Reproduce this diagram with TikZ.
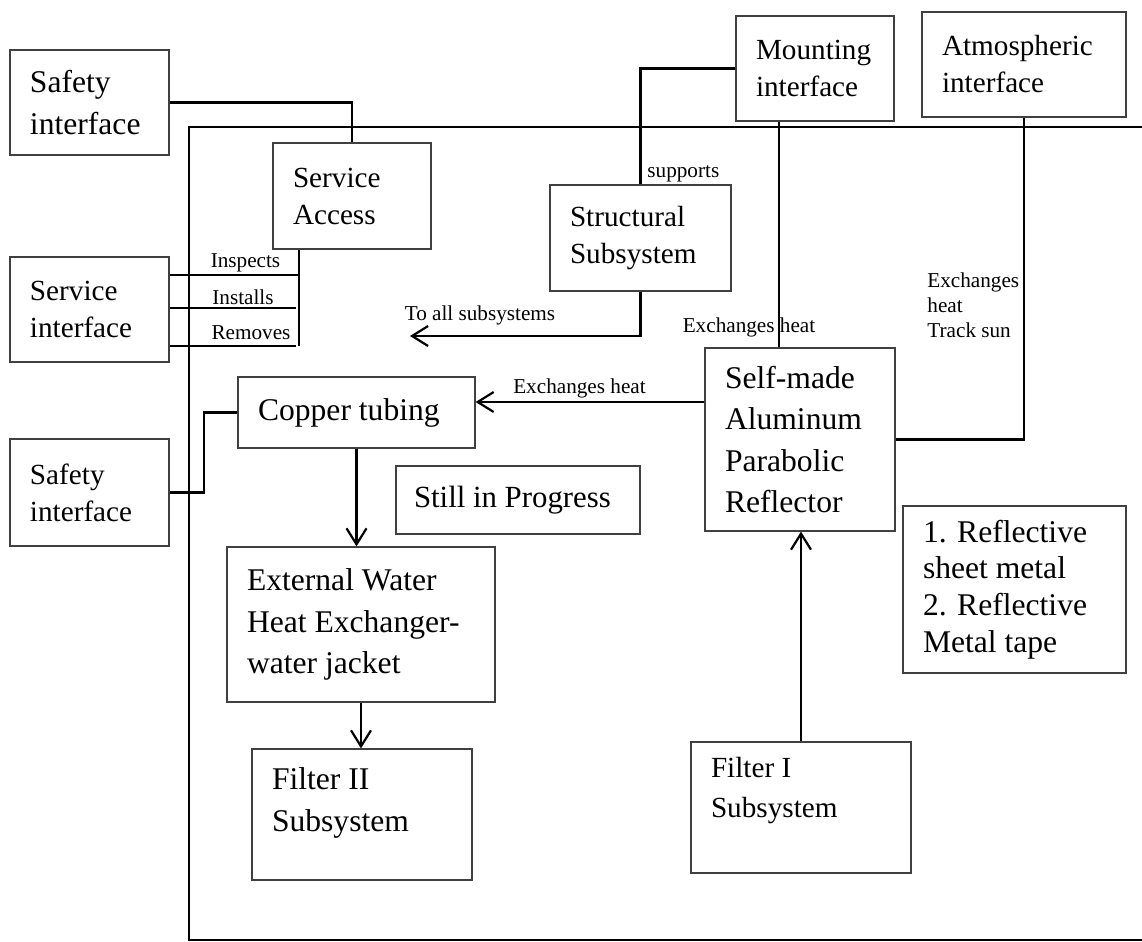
\documentclass[tikz,border=0pt]{standalone}
\usepackage{fontspec}
\setmainfont{Liberation Serif}
\usetikzlibrary{arrows.meta}

\begin{document}
\begin{tikzpicture}[x=0.5pt,y=-0.5pt,
    box/.style={draw=black!75, line width=0.6pt, inner xsep=10pt, inner ysep=0pt, align=flush left},
    big/.style={font=\fontsize{15.8}{20.8}\selectfont},
    mid/.style={font=\fontsize{14.6}{18.5}\selectfont},
    lbl/.style={inner sep=0pt, font=\fontsize{10.6}{12.5}\selectfont},
    wire/.style={line width=1.1pt},
    arr/.style={line width=1.1pt, -{Straight Barb[length=8pt,width=10pt]}},
    frame/.style={line width=1.3pt}]
    \useasboundingbox (0,0) rectangle (1142,942);

    \draw[frame] (1142,127) -- (189,127) -- (189,940) -- (1142,940);

    \node[box, big, text width=59.5pt, minimum height=52.5pt] (safetyA) at (89.5,102.5) {Safety\\interface};
    \node[box, mid, text width=59.5pt, minimum height=52.5pt] (service) at (89.5,309.5) {Service\\interface};
    \node[box, mid, text width=59.5pt, minimum height=53.5pt] (safetyB) at (89.5,492.5) {Safety\\interface};
    \node[box, mid, text width=59pt, minimum height=52.5pt] (mounting) at (815,68.5) {Mounting\\interface};
    \node[box, mid, text width=82pt, minimum height=52.5pt] (atmos) at (1024,64.5) {Atmospheric\\interface};

    \node[box, mid, text width=59pt, minimum height=53pt] (access) at (352,196) {Service\\Access};
    \node[box, mid, text width=70.5pt, minimum height=53pt] (struct) at (640.5,238) {Structural\\Subsystem};
    \node[box, big, text width=75pt, minimum height=91.5pt] (reflector) at (800,439.5) {Self-made\\Aluminum\\Parabolic\\Reflector};
    \node[box, big, text width=98.5pt, minimum height=35.5pt] (copper) at (356.5,412.5) {Copper tubing};
    \node[box, font=\fontsize{15.4}{20}\selectfont, inner xsep=9pt, text width=104pt, minimum height=34pt] (progress) at (518,500) {Still in Progress};
    \node[box, big, text width=114pt, minimum height=77.5pt] (jacket) at (361,624.5) {External Water\\Heat Exchanger-\\water jacket};
    \node[box, big, text width=90pt, minimum height=65.5pt] (filterB) at (362,814.5) {Filter II\\Subsystem\\[-6pt]~};
    \node[box, font=\fontsize{14.6}{20}\selectfont, text width=90pt, minimum height=65.5pt] (filterA) at (801,807.5) {Filter I\\Subsystem\\~};
    \node[box, font=\fontsize{15.8}{18.3}\selectfont, text width=91.5pt, minimum height=83.5pt] (material) at (1014.5,589.5) {1. Reflective\\sheet metal\\2. Reflective\\Metal tape};

    \coordinate (inspectEnd) at (300,275);
    \coordinate (installEnd) at (296,308);
    \coordinate (removeEnd) at (296,346);
    \coordinate (bus) at (299,346);
    \coordinate (allSub) at (410,336);
    \coordinate (mountTap) at (779,0);
    \coordinate (heatIn) at (0,402);

    \draw[wire] (safetyA.east) -| (access.north);
    \draw[wire] (access.south -| bus) -- (bus);
    \draw[wire] (service.east |- inspectEnd) -- (inspectEnd);
    \draw[wire] (service.east |- installEnd) -- (installEnd);
    \draw[wire] (service.east |- removeEnd) -- (removeEnd);
    \draw[wire] (mounting.west) -| (struct.north);
    \draw[arr] (struct.south) |- (allSub);
    \draw[wire] (mounting.south -| mountTap) -- (reflector.north -| mountTap);
    \draw[wire] (atmos.south) |- (reflector.east);
    \draw[arr] (reflector.west |- heatIn) -- (copper.east |- heatIn);
    \draw[wire] (safetyB.east) -- ++(34,0) |- (copper.west);
    \draw[arr] (copper.south) -- (copper.south |- jacket.north);
    \draw[arr] (jacket.south) -- (jacket.south |- filterB.north);
    \draw[arr] (filterA.north) -- (filterA.north |- reflector.south);

    \node[lbl, anchor=base] (inspectsLbl) at (245.5,267) {Inspects};
    \node[lbl, anchor=base] (installsLbl) at (243,304) {Installs};
    \node[lbl, anchor=base] (removesLbl) at (251,339) {Removes};
    \node[lbl, anchor=base west] (supportsLbl) at (647,177) {supports};
    \node[lbl, anchor=base] (allSubLbl) at (480,320) {To all subsystems};
    \node[lbl, anchor=base] (heatLblA) at (749,332) {Exchanges heat};
    \node[lbl, anchor=base] (heatLblB) at (579.5,393) {Exchanges heat};
    \node[lbl, anchor=north west, align=flush left] (sunLbl) at (927,272.5) {Exchanges\\heat\\Track sun};

\end{tikzpicture}
\end{document}
